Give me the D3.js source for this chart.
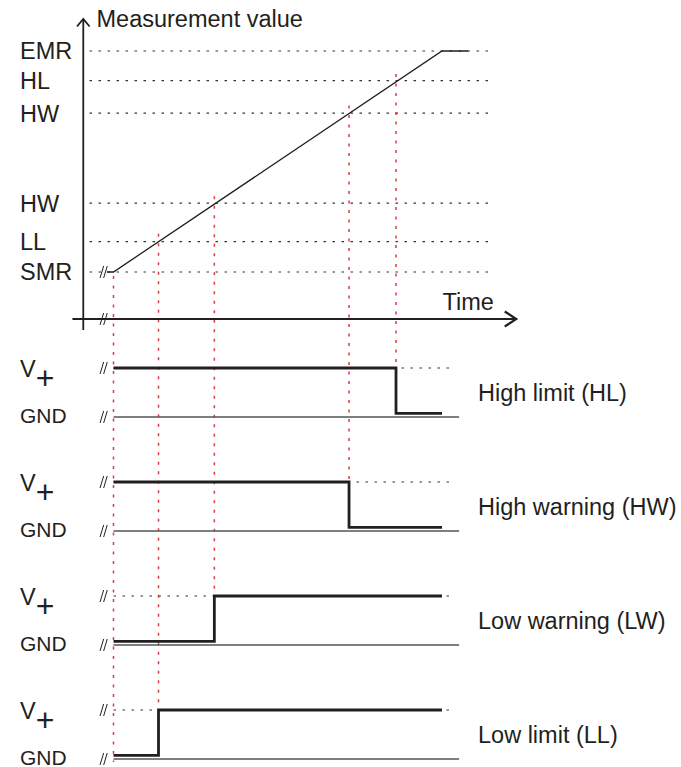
<!DOCTYPE html>
<html>
<head>
<meta charset="utf-8">
<script src="https://cdn.jsdelivr.net/npm/d3@7"></script>
<style>
	html, body { margin: 0; padding: 0; background: #fff; }
	svg { display: block; }
	text { font-family: "Liberation Sans", Arial, Helvetica, sans-serif; fill: #231f20; }
</style>
</head>
<body>
<div id="svg-container"></div>
<script>


// DATA
// threshold levels on the measurement axis (% of measuring range)
const levelNames = ["SMR", "LL", "HW", "HW", "HL", "EMR"];
const levelValues = [0, 13.7, 31.2, 71.9, 86.6, 100];

// measurement value over time
const measureTimes = [-2, 0, 100, 108];
const measureValues = [0, 0, 100, 100];

// switching outputs
const outputNames = ["High limit (HL)", "High warning (HW)", "Low warning (LW)", "Low limit (LL)"];
const switchTimes = [86, 71.7, 30.7, 13.7];
const startStates = [1, 1, 0, 0];   // 1 = V+, 0 = GND
const endStates = [0, 0, 1, 1];
const signalEnd = 100;




// DIAGRAM
function drawDiagram() {
	const w = 681;
	const h = 767;
	const font = 23.5;

	// time -> x
	const xScale = d3.scaleLinear()
		.domain([0, 100])
		.range([113.5, 442]);
	// value -> y (top chart)
	const yScale = d3.scaleLinear()
		.domain([0, 100])
		.range([272, 51]);
	// output panel -> y of the V+ level
	const panelScale = d3.scaleLinear()
		.domain([0, outputNames.length - 1])
		.range([368, 710]);
	// output state -> offset from V+ level
	const stateScale = d3.scaleLinear()
		.domain([1, 0])
		.range([0, 45.4]);
	const gndOffset = 49;

	const svg = d3.select("#svg-container")
		.append("svg")
		.attr("width", w)
		.attr("height", h);

	const ink = "#231f20";
	const red = "#d93a45";


	// break mark "//"
	function breakMark(cx, cy) {
		[-1.8, 1.8].forEach(off => {
			svg.append("line")
				.attr("x1", cx + off - 1.8).attr("y1", cy + 6)
				.attr("x2", cx + off + 1.8).attr("y2", cy - 6)
				.attr("stroke", ink)
				.attr("stroke-width", 1);
		});
	}


	// threshold dotted lines
	levelValues.forEach(v => {
		svg.append("line")
			.attr("x1", xScale(-7.3)).attr("x2", xScale(115.5))
			.attr("y1", yScale(v)).attr("y2", yScale(v))
			.attr("stroke", "#333")
			.attr("stroke-width", 1.2)
			.attr("stroke-dasharray", "2.5,6.5");
	});

	// threshold labels
	svg.selectAll(".level-label")
		.data(levelNames)
		.enter()
		.append("text")
		.attr("class", "level-label")
		.attr("x", 20)
		.attr("y", (d, i) => yScale(levelValues[i]))
		.attr("dy", "0.36em")
		.style("font-size", font + "px")
		.text(d => d);


	// red guide lines (start + each switching point)
	svg.append("line")
		.attr("x1", xScale(0)).attr("x2", xScale(0))
		.attr("y1", yScale(0) + 4)
		.attr("y2", panelScale(3) + gndOffset + 3)
		.attr("stroke", red)
		.attr("stroke-width", 1.5)
		.attr("stroke-dasharray", "3,6.5");
	switchTimes.forEach((t, i) => {
		svg.append("line")
			.attr("x1", xScale(t)).attr("x2", xScale(t))
			.attr("y1", yScale(t) - 8)
			.attr("y2", panelScale(i))
			.attr("stroke", red)
			.attr("stroke-width", 1.5)
			.attr("stroke-dasharray", "3,6.5");
	});


	// axes
	const axisX = xScale(-9.2);
	const axisY = 319;
	svg.append("line")
		.attr("x1", axisX).attr("x2", axisX)
		.attr("y1", 19).attr("y2", 330)
		.attr("stroke", ink).attr("stroke-width", 1.8);
	svg.append("path")
		.attr("d", `M${axisX - 6.3},26.5 L${axisX},19 L${axisX + 6.3},26.5`)
		.attr("fill", "none").attr("stroke", ink).attr("stroke-width", 1.8);
	svg.append("line")
		.attr("x1", xScale(-12.5)).attr("x2", xScale(122.6))
		.attr("y1", axisY).attr("y2", axisY)
		.attr("stroke", ink).attr("stroke-width", 2.2);
	svg.append("path")
		.attr("d", `M${xScale(122.6) - 11.5},${axisY - 7.5} L${xScale(122.6)},${axisY} L${xScale(122.6) - 11.5},${axisY + 7.5}`)
		.attr("fill", "none").attr("stroke", ink).attr("stroke-width", 2.2);
	breakMark(xScale(-3), axisY);

	svg.append("text")
		.text("Measurement value")
		.attr("x", 96.5).attr("y", 27)
		.style("font-size", font + "px");
	svg.append("text")
		.text("Time")
		.attr("x", 442.5).attr("y", 310)
		.style("font-size", font + "px");


	// measurement curve
	const measure = measureTimes.map((t, i) => ({ t: t, v: measureValues[i] }));
	svg.append("path")
		.datum(measure)
		.attr("d", d3.line().x(d => xScale(d.t)).y(d => yScale(d.v)))
		.attr("fill", "none")
		.attr("stroke", ink)
		.attr("stroke-width", 1.3);
	breakMark(xScale(-3), yScale(0));


	// switching output panels
	outputNames.forEach((name, i) => {
		const top = panelScale(i);
		const gnd = top + gndOffset;

		// V+ reference (dotted)
		svg.append("line")
			.attr("x1", xScale(0)).attr("x2", xScale(104))
			.attr("y1", top).attr("y2", top)
			.attr("stroke", "#333")
			.attr("stroke-width", 1.2)
			.attr("stroke-dasharray", "2.5,6.5");
		// GND line
		svg.append("line")
			.attr("x1", xScale(0)).attr("x2", xScale(105.2))
			.attr("y1", gnd).attr("y2", gnd)
			.attr("stroke", "#555")
			.attr("stroke-width", 1.4);

		// output signal
		const pts = [
			{ t: 0, s: startStates[i] },
			{ t: switchTimes[i], s: endStates[i] },
			{ t: signalEnd, s: endStates[i] }
		];
		svg.append("path")
			.datum(pts)
			.attr("d", d3.line()
				.curve(d3.curveStepAfter)
				.x(d => xScale(d.t))
				.y(d => top + stateScale(d.s)))
			.attr("fill", "none")
			.attr("stroke", ink)
			.attr("stroke-width", 2.8)
			.attr("stroke-linejoin", "miter");

		breakMark(xScale(-3), top);
		breakMark(xScale(-3), gnd);

		// left labels
		const vp = svg.append("text")
			.attr("x", 20).attr("y", top + 9)
			.style("font-size", font + "px");
		vp.append("tspan").text("V");
		vp.append("tspan")
			.attr("dy", 12)
			.style("font-size", "32px")
			.text("+");
		svg.append("text")
			.text("GND")
			.attr("x", 20).attr("y", gnd)
			.attr("dy", "0.3em")
			.style("font-size", "21px");

		// right label
		svg.append("text")
			.text(name)
			.attr("x", 478)
			.attr("y", (top + gnd) / 2)
			.attr("dy", "0.36em")
			.style("font-size", font + "px");
	});
}




document.addEventListener('DOMContentLoaded', () => {
	drawDiagram();
});
</script>
</body>
</html>
